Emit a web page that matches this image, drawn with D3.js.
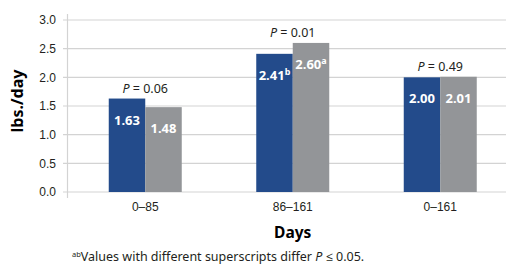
<!DOCTYPE html>
<meta charset="utf-8">
<style>
	body { margin: 0; background: #fff; }
	svg { font-family: "Noto Sans", "Open Sans", sans-serif; }
	.grid line { stroke: #d3d3d3; stroke-width: 1.2px; }
	.y.axis text, .x.axis text { font-size: 12px; fill: #231f20; }
	.bar-label { font-size: 13px; font-weight: bold; fill: #fff; }
	.p-label { font-size: 12.5px; fill: #231f20; }
	.title { font-weight: bold; fill: #000; }
</style>
<body></body>
<script src="https://d3js.org/d3.v7.min.js"></script>
<script>
	var periods = ["0\u201385", "86\u2013161", "0\u2013161"];
	var seriesA = [1.63, 2.41, 2.00];
	var seriesB = [1.48, 2.60, 2.01];
	var supA = ["", "b", ""];
	var supB = ["", "a", ""];
	var pValues = ["0.06", "0.01", "0.49"];
	var yTicks = [0, 0.5, 1, 1.5, 2, 2.5, 3];

	var width = 508, height = 264;

	var svg = d3.select("body").append("svg")
		.attr("width", width)
		.attr("height", height);

	var x = d3.scaleBand()
		.domain(periods)
		.range([71.5, 514]);

	var y = d3.scaleLinear()
		.domain([0, 3])
		.range([192, 20]);

	var barW = 36.5;

	// grid lines
	var grid = svg.append("g").attr("class", "grid");
	grid.selectAll("line")
		.data(yTicks)
		.enter().append("line")
		.attr("x1", 63).attr("x2", 506)
		.attr("y1", function(d) { return y(d); })
		.attr("y2", function(d) { return y(d); });

	svg.append("line")
		.attr("x1", 67.5).attr("x2", 67.5)
		.attr("y1", 14).attr("y2", 198)
		.style("stroke", "#d3d3d3").style("stroke-width", 1.2);

	svg.append("g")
		.attr("class", "y axis")
		.attr("transform", "translate(60,0)")
		.call(d3.axisLeft(y).tickValues(yTicks).tickFormat(d3.format(".1f")).tickSize(0).tickPadding(4))
		.call(function(g) { g.select(".domain").remove(); });

	svg.append("g")
		.attr("class", "x axis")
		.attr("transform", "translate(0,200)")
		.call(d3.axisBottom(x).tickSize(0).tickPadding(2))
		.call(function(g) { g.select(".domain").remove(); });

	var groups = svg.selectAll(".grp")
		.data(periods)
		.enter().append("g")
		.attr("class", "grp");

	// blue bars
	groups.append("rect")
		.attr("x", function(d) { return x(d) + x.bandwidth() / 2 - barW; })
		.attr("y", function(d, i) { return y(seriesA[i]); })
		.attr("width", barW)
		.attr("height", function(d, i) { return y(0) - y(seriesA[i]); })
		.attr("fill", "#234b8b");

	// gray bars
	groups.append("rect")
		.attr("x", function(d) { return x(d) + x.bandwidth() / 2; })
		.attr("y", function(d, i) { return y(seriesB[i]); })
		.attr("width", barW)
		.attr("height", function(d, i) { return y(0) - y(seriesB[i]); })
		.attr("fill", "#939598");

	function valueLabel(sel, vals, sups, offset) {
		var t = sel.append("text")
			.attr("class", "bar-label")
			.attr("text-anchor", "middle")
			.attr("x", function(d) { return x(d) + x.bandwidth() / 2 + offset; })
			.attr("y", function(d, i) { return y(vals[i]) + 26; });
		t.append("tspan").text(function(d, i) { return vals[i].toFixed(2); });
		t.append("tspan")
			.attr("dy", -5)
			.style("font-size", "9px")
			.text(function(d, i) { return sups[i]; });
	}
	valueLabel(groups, seriesA, supA, -barW / 2);
	valueLabel(groups, seriesB, supB, barW / 2);

	var p = groups.append("text")
		.attr("class", "p-label")
		.attr("text-anchor", "middle")
		.attr("x", function(d) { return x(d) + x.bandwidth() / 2; })
		.attr("y", function(d, i) { return y(Math.max(seriesA[i], seriesB[i])) - 6; });
	p.append("tspan").style("font-style", "italic").text("P");
	p.append("tspan").text(function(d, i) { return " = " + pValues[i]; });

	// axis titles
	svg.append("text")
		.attr("class", "title")
		.attr("transform", "translate(23,101) rotate(-90)")
		.attr("text-anchor", "middle")
		.style("font-size", "16px")
		.text("lbs./day");

	svg.append("text")
		.attr("class", "title")
		.attr("x", x(periods[1]) + x.bandwidth() / 2)
		.attr("y", 238)
		.attr("text-anchor", "middle")
		.style("font-size", "15.5px")
		.text("Days");

	// footnote
	var foot = svg.append("text")
		.attr("x", 72)
		.attr("y", 261)
		.style("font-size", "12.5px")
		.style("fill", "#231f20");
	foot.append("tspan").attr("dy", -4).style("font-size", "7.5px").text("ab");
	foot.append("tspan").attr("dy", 4).text("Values with different superscripts differ ");
	foot.append("tspan").style("font-style", "italic").text("P");
	foot.append("tspan").text(" \u2264 0.05.");
</script>
